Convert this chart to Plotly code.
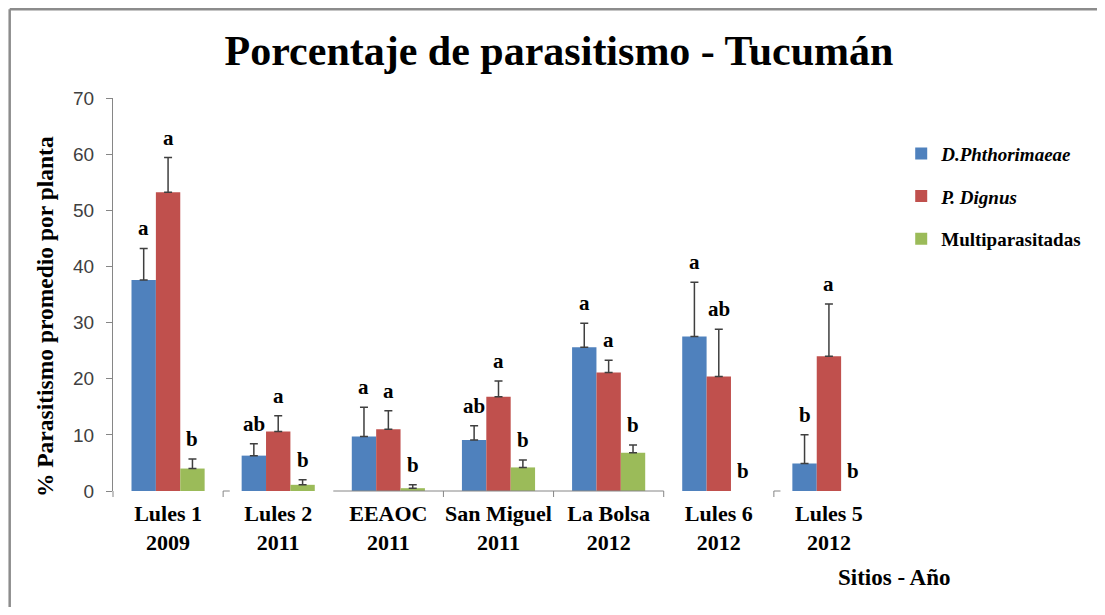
import plotly.graph_objects as go

# ---------------- data ----------------
sites = ["Lules 1", "Lules 2", "EEAOC", "San Miguel", "La Bolsa", "Lules 6", "Lules 5"]
years = ["2009", "2011", "2011", "2011", "2012", "2012", "2012"]

series_names = ["D.Phthorimaeae", "P. Dignus", "Multiparasitadas"]

dphth = [37.6, 6.3, 9.7, 9.1, 25.6, 27.5, 4.9]
dphth_err = [5.6, 2.1, 5.2, 2.5, 4.3, 9.7, 5.1]

pdign = [53.2, 10.6, 11.0, 16.8, 21.1, 20.4, 24.0]
pdign_err = [6.2, 2.8, 3.3, 2.8, 2.2, 8.4, 9.3]

multi = [4.0, 1.1, 0.5, 4.2, 6.8, 0.0, 0.0]
multi_err = [1.7, 0.9, 0.6, 1.3, 1.4, 0.0, 0.0]

letters_dphth = ["a", "ab", "a", "ab", "a", "a", "b"]
letters_pdign = ["a", "a", "a", "a", "a", "ab", "a"]
letters_multi = ["b", "b", "b", "b", "b", "b", "b"]

y_ticks = [0, 10, 20, 30, 40, 50, 60, 70]

# ---------------- style ----------------
SERIF = "Liberation Serif"
SANS = "Liberation Sans"
colors = ["#4F81BD", "#C0504D", "#9BBB59"]
legend_labels = ["<b><i>D.Phthorimaeae</i></b>", "<b><i>P. Dignus</i></b>", "<b>Multiparasitadas</b>"]
AXIS_GRAY = "#868686"
BARGAP = 0.336
PLOT_H = 393

categories = [f"{s}<br>{y}" for s, y in zip(sites, years)]

fig = go.Figure()
all_vals = [dphth, pdign, multi]
all_errs = [dphth_err, pdign_err, multi_err]
all_letters = [letters_dphth, letters_pdign, letters_multi]

for k in range(3):
    # zero-valued means are not drawn as bars (nothing visible in the original)
    shown = [v if v > 0 else None for v in all_vals[k]]
    fig.add_trace(go.Bar(
        x=categories, y=shown, name=legend_labels[k],
        legendgroup=series_names[k],
        marker=dict(color=colors[k], line=dict(width=0)),
        error_y=dict(type="data", symmetric=False, array=all_errs[k],
                     arrayminus=[0] * len(categories),
                     color="#3f3f3f", thickness=1.5, width=4),
    ))

# significance letters above each error bar
bw = (1 - BARGAP) / 3
annotations = []
for k in range(3):
    for i in range(len(categories)):
        v = all_vals[k][i]
        e = all_errs[k][i]
        annotations.append(dict(
            x=i + (k - 1) * bw, y=v + e, xref="x", yref="y",
            text=all_letters[k][i], showarrow=False,
            xanchor="center", yanchor="middle", yshift=20,
            font=dict(family=SERIF, size=21, color="black", weight="bold"),
        ))

# y-axis title
annotations.append(dict(
    x=-0.0887, y=0.444, xref="paper", yref="paper",
    xanchor="center", yanchor="middle",
    text="% Parasitismo promedio por planta", textangle=-90, showarrow=False,
    font=dict(family=SERIF, size=23.5, color="black", weight="bold"),
))
# x-axis title
annotations.append(dict(
    x=1.013, y=-0.219, xref="paper", yref="paper",
    xanchor="center", yanchor="middle",
    text="Sitios - Año", showarrow=False,
    font=dict(family=SERIF, size=23, color="black", weight="bold"),
))

# axis fragments (as in the original picture)
shapes = []
line = dict(color=AXIS_GRAY, width=1)
tick_down = -6 / PLOT_H
shapes.append(dict(type="line", xref="x", yref="paper", x0=1.5, x1=4.5, y0=0, y1=0, line=line))
for b in [2.5, 3.5, 4.5]:
    shapes.append(dict(type="line", xref="x", yref="paper", x0=b, x1=b, y0=0, y1=tick_down, line=line))
for b in [0.5, 5.5]:
    shapes.append(dict(type="line", xref="x", yref="paper", x0=b, x1=b, y0=0, y1=tick_down, line=line))
    shapes.append(dict(type="line", xref="x", yref="paper", x0=b, x1=b + 0.06, y0=0, y1=0, line=line))
# small extension of y axis below zero
shapes.append(dict(type="line", xref="paper", yref="paper", x0=0, x1=0, y0=0, y1=tick_down, line=line))
# outer frame (left and top edges)
frame = dict(color="#8c8c8c", width=2.5)
shapes.append(dict(type="line", xref="paper", yref="paper", x0=-0.134, x1=-0.134, y0=1.226, y1=-0.32, line=frame))
shapes.append(dict(type="line", xref="paper", yref="paper", x0=-0.134, x1=1.3, y0=1.226, y1=1.226, line=frame))

fig.update_layout(
    width=1089, height=599,
    margin=dict(l=105.4, r=212.2, t=90, b=116),
    paper_bgcolor="white", plot_bgcolor="white",
    barmode="group", bargap=BARGAP, bargroupgap=0,
    title=dict(text="Porcentaje de parasitismo - Tucumán", x=0.506, xref="container",
               xanchor="center", y=0.930, yref="container", yanchor="middle",
               font=dict(family=SERIF, size=42, color="black", weight="bold")),
    legend=dict(x=1.021, y=0.907, xanchor="left", yanchor="top",
                font=dict(family=SERIF, size=19, color="black"),
                tracegroupgap=15, bgcolor="rgba(0,0,0,0)"),
    annotations=annotations,
    shapes=shapes,
    showlegend=True,
)
fig.update_xaxes(type="category", showline=False, ticks="", showgrid=False,
                 zeroline=False, ticklabelstandoff=7,
                 tickfont=dict(family=SERIF, size=22, color="black", weight="bold"))
fig.update_yaxes(range=[0, 70], tickvals=y_ticks, showgrid=False, zeroline=False,
                 showline=True, linecolor=AXIS_GRAY, linewidth=1,
                 ticks="outside", ticklen=6, tickcolor=AXIS_GRAY,
                 ticklabelstandoff=8,
                 tickfont=dict(family=SANS, size=19, color="#404040"))

fig.write_html("out.html")
